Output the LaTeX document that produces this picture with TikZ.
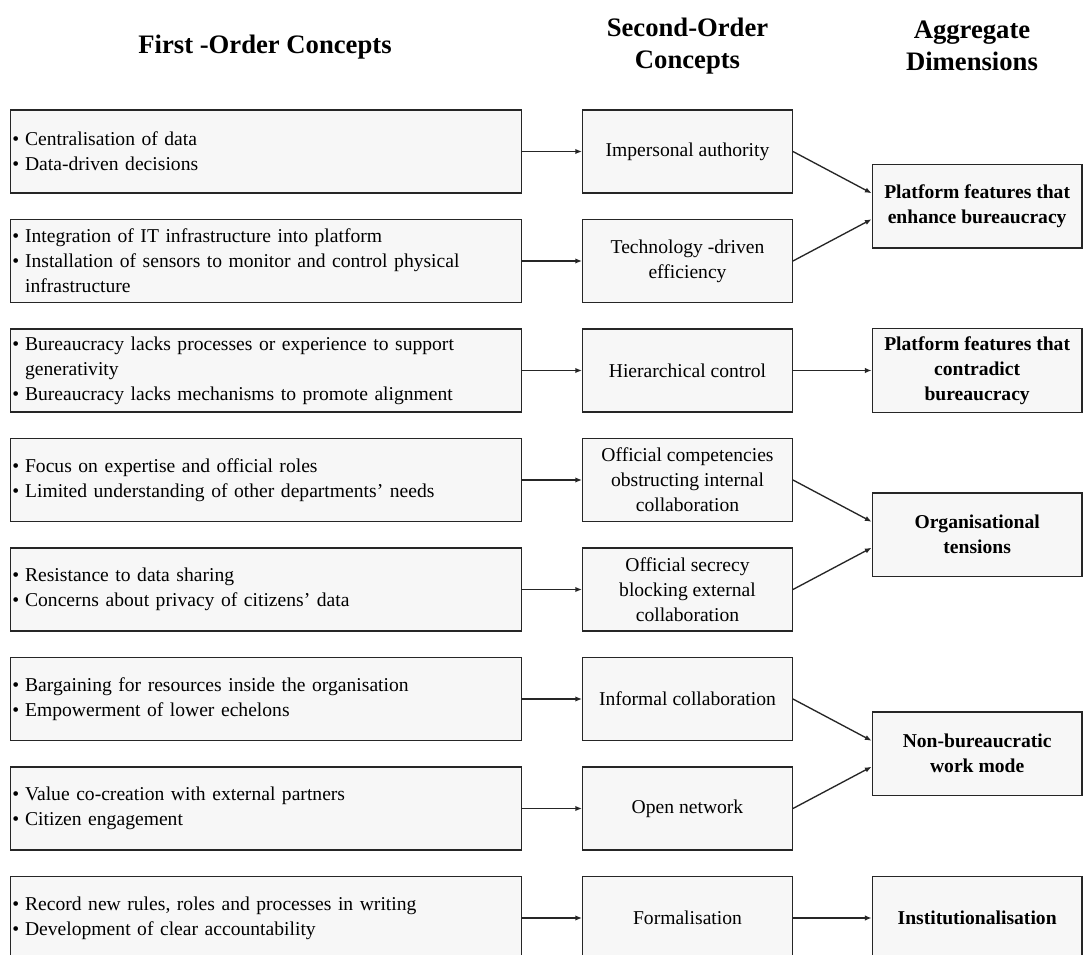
\documentclass[tikz,border=0pt]{standalone}
\usepackage{fontspec}
\setmainfont{Liberation Serif}
\usetikzlibrary{arrows.meta}
\newcommand\bitem[1]{\hyphenpenalty=10000\relax\exhyphenpenalty=10000\relax\hangindent=9.5pt\relax\hangafter=1\relax\noindent\makebox[9.5pt][l]{•}#1\par}
\begin{document}
\begin{tikzpicture}[x=0.75pt,y=-0.75pt,
  box/.style={draw=black!85, line width=1pt, fill=black!3, inner sep=0pt,
    font=\fontsize{14.7}{18.8}\selectfont},
  lbox/.style={box, minimum width=383.4pt, minimum height=62.25pt, text width=380pt, align=left, anchor=west},
  mbox/.style={box, minimum width=157.2pt, minimum height=62.25pt, align=center},
  rbox/.style={box, minimum width=157.3pt, minimum height=62.6pt, align=center,
    font=\fontsize{14.7}{18.8}\selectfont\bfseries},
  arr/.style={-{Latex[length=5pt,width=4pt]}, line width=1pt, draw=black!85},
  head/.style={font=\fontsize{20}{24}\selectfont\bfseries, align=center}]
\useasboundingbox[fill=white] (0,0) rectangle (1083,955);

% headings
\node[head] (h1) at (265,47) {First -Order Concepts};
\node[head] (h2) at (687.5,46) {Second-Order\\Concepts};
\node[head] (h3) at (972,46) {Aggregate\\Dimensions};

% first-order boxes
\node[lbox] (l1) at (9.5,151.5) {\bitem{Centralisation of data}\bitem{Data-driven decisions}};
\node[lbox] (l2) at (9.5,261) {\bitem{Integration of IT infrastructure into platform}\bitem{Installation of sensors to monitor and control physical infrastructure}};
\node[lbox] (l3) at (9.5,370.5) {\bitem{Bureaucracy lacks processes or experience to support generativity}\bitem{Bureaucracy lacks mechanisms to promote alignment}};
\node[lbox] (l4) at (9.5,480) {\bitem{Focus on expertise and official roles}\bitem{Limited understanding of other departments’ needs}};
\node[lbox] (l5) at (9.5,589.5) {\bitem{Resistance to data sharing}\bitem{Concerns about privacy of citizens’ data}};
\node[lbox] (l6) at (9.5,699) {\bitem{Bargaining for resources inside the organisation}\bitem{Empowerment of lower echelons}};
\node[lbox] (l7) at (9.5,808.5) {\bitem{Value co-creation with external partners}\bitem{Citizen engagement}};
\node[lbox] (l8) at (9.5,918) {\bitem{Record new rules, roles and processes in writing}\bitem{Development of clear accountability}};

% second-order boxes
\node[mbox] (m1) at (687.5,151.5) {Impersonal authority};
\node[mbox] (m2) at (687.5,261) {Technology -driven\\efficiency};
\node[mbox] (m3) at (687.5,370.5) {Hierarchical control};
\node[mbox] (m4) at (687.5,480) {Official competencies\\obstructing internal\\collaboration};
\node[mbox] (m5) at (687.5,589.5) {Official secrecy\\blocking external\\collaboration};
\node[mbox] (m6) at (687.5,699) {Informal collaboration};
\node[mbox] (m7) at (687.5,808.5) {Open network};
\node[mbox] (m8) at (687.5,918) {Formalisation};

% aggregate boxes
\node[rbox] (r1) at (977.15,206.25) {Platform features that\\enhance bureaucracy};
\node[rbox] (r2) at (977.15,370.5) {Platform features that\\contradict\\bureaucracy};
\node[rbox] (r3) at (977.15,534.75) {Organisational\\tensions};
\node[rbox] (r4) at (977.15,753.75) {Non-bureaucratic\\work mode};
\node[rbox] (r5) at (977.15,918) {Institutionalisation};

% arrows first -> second
\foreach \i in {1,...,8} {\draw[arr] (l\i.east) -- (m\i.west);}

% arrows second -> aggregate
\draw[arr] (m1.east) -- ([yshift=9.75pt]r1.west);
\draw[arr] (m2.east) -- ([yshift=-9.75pt]r1.west);
\draw[arr] (m3.east) -- (r2.west);
\draw[arr] (m4.east) -- ([yshift=9.75pt]r3.west);
\draw[arr] (m5.east) -- ([yshift=-9.75pt]r3.west);
\draw[arr] (m6.east) -- ([yshift=9.75pt]r4.west);
\draw[arr] (m7.east) -- ([yshift=-9.75pt]r4.west);
\draw[arr] (m8.east) -- (r5.west);
\end{tikzpicture}
\end{document}
